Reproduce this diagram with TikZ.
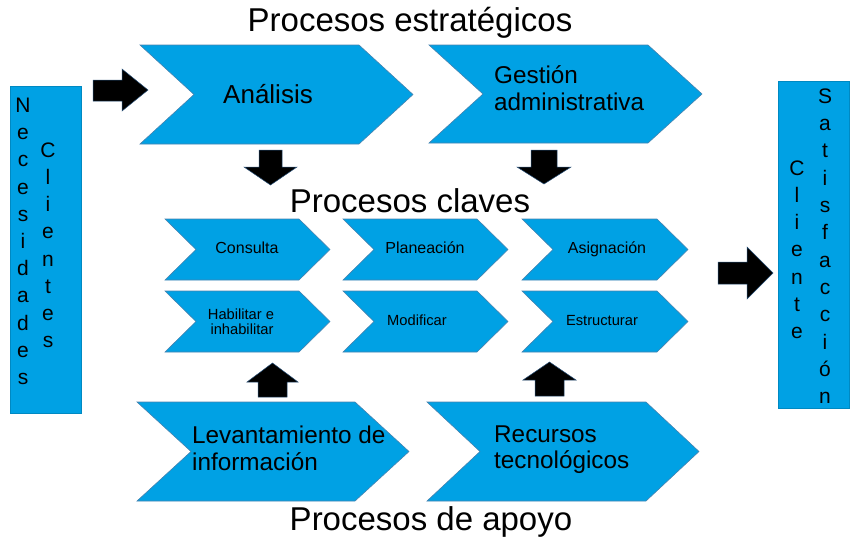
\documentclass[tikz,border=0pt]{standalone}
\usepackage{fontspec}
\setmainfont{Liberation Sans}
\definecolor{chevblue}{RGB}{0,161,228}
\definecolor{chevedge}{RGB}{70,130,175}
\definecolor{arredge}{RGB}{40,80,120}
\tikzset{
  chev/.style={fill=chevblue, draw=chevedge, line width=0.6pt},
  sidebox/.style={fill=chevblue, draw=chevblue!85!black, line width=0.5pt},
  blockarrow/.style={fill=black, draw=arredge, line width=0.5pt, line join=miter},
  title/.style={font=\fontsize{33}{36}\selectfont, inner sep=0pt, anchor=base},
  bigtxt/.style={font=\fontsize{24.3}{27}\selectfont, inner sep=0pt, anchor=base west},
  smalltxt/.style={font=\fontsize{16}{18}\selectfont, inner sep=0pt, anchor=base},
  smallertxt/.style={font=\fontsize{14.7}{16}\selectfont, inner sep=0pt, anchor=base},
  vletter/.style={font=\fontsize{21}{24}\selectfont, inner sep=0pt, anchor=base},
}
\newcommand{\chevshape}[5]{%
  \path[chev] (#1,#2) -- ({#3-#5},#2) -- (#3,{(#2+#4)/2}) -- ({#3-#5},#4) -- (#1,#4) -- ({#1+#5},{(#2+#4)/2}) -- cycle;}
\begin{document}
\begin{tikzpicture}[x=1pt,y=-1pt]
\useasboundingbox (0,0) rectangle (865,542);

% titles
\node[title] (t1) at (410,31) {Procesos estratégicos};
\node[title] (t2) at (410,212) {Procesos claves};
\node[title] (t3) at (431,530) {Procesos de apoyo};

% side boxes
\path[sidebox] (10,86) rectangle (81,413);
\path[sidebox] (778,81) rectangle (849,408);
\foreach \ch [count=\i] in {N,e,c,e,s,i,d,a,d,e,s}
  \node[vletter] (nec\i) at (23,{112.5+27.2*(\i-1)}) {\ch};
\foreach \ch [count=\i] in {C,l,i,e,n,t,e,s}
  \node[vletter] (cli\i) at (48,{157.3+27.2*(\i-1)}) {\ch};
\foreach \ch [count=\i] in {S,a,t,i,s,f,a,c,c,i,ó,n}
  \node[vletter] (sat\i) at (825,{103.3+27.3*(\i-1)}) {\ch};
\foreach \ch [count=\i] in {C,l,i,e,n,t,e}
  \node[vletter] (clr\i) at (797,{175+27.3*(\i-1)}) {\ch};

% strategic chevrons
\chevshape{140}{45}{413}{144}{54}
\chevshape{429}{45}{702}{143}{54}
\node[bigtxt, font=\fontsize{26}{28}\selectfont] (ana) at (223,103) {Análisis};
\node[bigtxt] (ges1) at (494,83) {Gestión};
\node[bigtxt] (ges2) at (494,110) {administrativa};

% key process chevrons
\chevshape{165}{219}{330}{280}{31}
\chevshape{343}{219}{508}{280}{31}
\chevshape{522}{219}{688}{280}{31}
\chevshape{165}{291}{330}{352}{31}
\chevshape{343}{291}{508}{352}{31}
\chevshape{522}{291}{688}{352}{31}
\node[smalltxt] (con) at (247,253) {Consulta};
\node[smalltxt] (pla) at (425,253) {Planeación};
\node[smalltxt] (asi) at (607,253) {Asignación};
\node[smallertxt] (hab1) at (241,319) {Habilitar e};
\node[smallertxt] (hab2) at (242,334) {inhabilitar};
\node[smallertxt] (mod) at (417,325) {Modificar};
\node[smallertxt] (est) at (602,325) {Estructurar};

% support chevrons
\chevshape{137}{402}{409}{501}{54}
\chevshape{427}{402}{699}{501}{53}
\node[bigtxt] (lev1) at (192,443) {Levantamiento de};
\node[bigtxt] (lev2) at (192,470) {información};
\node[bigtxt] (rec1) at (494,442) {Recursos};
\node[bigtxt] (rec2) at (494,468) {tecnológicos};

% block arrows
\path[blockarrow] (93,80) -- (122,80) -- (122,69) -- (148,90) -- (122,111) -- (122,101) -- (93,101) -- cycle;
\path[blockarrow] (718,262) -- (747,262) -- (747,247) -- (773,273) -- (747,299) -- (747,284) -- (718,284) -- cycle;
\path[blockarrow] (259,150) -- (282,150) -- (282,167) -- (297,167) -- (270.5,185) -- (244,167) -- (259,167) -- cycle;
\path[blockarrow] (531,150) -- (557,150) -- (557,167) -- (571,167) -- (544,184) -- (517,167) -- (531,167) -- cycle;
\path[blockarrow] (258,397) -- (287,397) -- (287,382) -- (298,382) -- (272.5,363) -- (247,382) -- (258,382) -- cycle;
\path[blockarrow] (535,396) -- (564,396) -- (564,380) -- (576,380) -- (549.5,362) -- (523,380) -- (535,380) -- cycle;
\end{tikzpicture}
\end{document}
